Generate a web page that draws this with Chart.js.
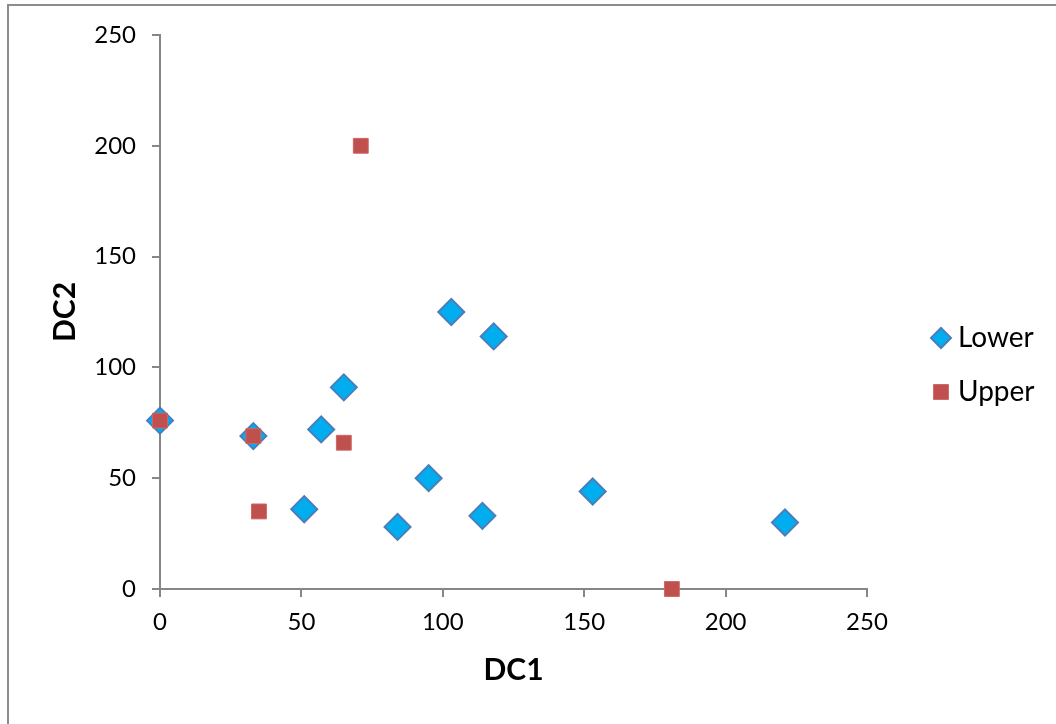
<!DOCTYPE html>
<html>
<head>
<meta charset="utf-8">
<script src="https://cdn.jsdelivr.net/npm/chart.js@4/dist/chart.umd.min.js"></script>
<style>
  html, body { margin: 0; padding: 0; background: #fff; }
  #wrap { position: relative; width: 1056px; height: 724px; }
</style>
</head>
<body>
<div id="wrap"><canvas id="c"></canvas></div>
<script>
const seriesNames = ['Lower', 'Upper'];
const lowerX = [0, 33, 51, 57, 65, 84, 95, 103, 114, 118, 153, 221];
const lowerY = [76, 69, 36, 72, 91, 28, 50, 125, 33, 114, 44, 30];
const upperX = [0, 33, 35, 65, 71, 181];
const upperY = [76, 69, 35, 66, 200, 0];
const xTicks = [0, 50, 100, 150, 200, 250];
const yTicks = [0, 50, 100, 150, 200, 250];
const xTitle = 'DC1';
const yTitle = 'DC2';

const FONT = 'Lato, "Open Sans", sans-serif';
const lowerStyle = { pointStyle: 'rectRot', backgroundColor: '#00AEEF', borderColor: '#4A7EBB', borderWidth: 2, radius: 13 };
const upperStyle = { pointStyle: 'rect', backgroundColor: '#C0504D', borderColor: '#CC6663', borderWidth: 1, radius: 10.5 };

function toPoints(xs, ys) { return xs.map((x, i) => ({ x: x, y: ys[i] })); }

const framePlugin = {
  id: 'frame',
  beforeDraw(chart) {
    const ctx = chart.ctx;
    ctx.save();
    ctx.strokeStyle = '#8C8C8C';
    ctx.lineWidth = 2;
    ctx.beginPath();
    ctx.moveTo(8, 724);
    ctx.lineTo(8, 5);
    ctx.lineTo(1056, 5);
    ctx.stroke();
    ctx.restore();
  }
};

const legendPlugin = {
  id: 'customLegend',
  afterDraw(chart) {
    const ctx = chart.ctx;
    const items = [
      { text: seriesNames[0], style: lowerStyle, r: 10, y: 338 },
      { text: seriesNames[1], style: upperStyle, r: 10.5, y: 392 }
    ];
    ctx.save();
    items.forEach(it => {
      ctx.fillStyle = it.style.backgroundColor;
      ctx.strokeStyle = it.style.borderColor;
      ctx.lineWidth = it.style.borderWidth;
      Chart.helpers.drawPoint(ctx, { pointStyle: it.style.pointStyle, radius: it.r, rotation: 0, borderWidth: it.style.borderWidth }, 941, it.y);
      ctx.fillStyle = '#000';
      ctx.font = '28px ' + FONT;
      ctx.textBaseline = 'middle';
      ctx.textAlign = 'left';
      ctx.fillText(it.text, 958, it.y);
    });
    ctx.restore();
  }
};

new Chart(document.getElementById('c'), {
  type: 'scatter',
  data: {
    datasets: [
      {
        label: seriesNames[0],
        data: toPoints(lowerX, lowerY),
        order: 2,
        clip: false,
        pointStyle: lowerStyle.pointStyle,
        backgroundColor: lowerStyle.backgroundColor,
        borderColor: lowerStyle.borderColor,
        borderWidth: lowerStyle.borderWidth,
        pointRadius: lowerStyle.radius,
        pointHoverRadius: lowerStyle.radius
      },
      {
        label: seriesNames[1],
        data: toPoints(upperX, upperY),
        order: 1,
        clip: false,
        pointStyle: upperStyle.pointStyle,
        backgroundColor: upperStyle.backgroundColor,
        borderColor: upperStyle.borderColor,
        borderWidth: upperStyle.borderWidth,
        pointRadius: upperStyle.radius,
        pointHoverRadius: upperStyle.radius
      }
    ]
  },
  options: {
    responsive: true,
    maintainAspectRatio: false,
    animation: false,
    layout: { padding: { left: 0, top: 35, right: 189, bottom: 0 } },
    plugins: {
      legend: { display: false },
      tooltip: { enabled: false }
    },
    scales: {
      x: {
        type: 'linear',
        min: 0, max: 250,
        afterBuildTicks(scale) { scale.ticks = xTicks.map(v => ({ value: v })); },
        afterFit(scale) { scale.height = 135; },
        border: { display: true, color: '#868686', width: 2 },
        grid: { display: true, drawOnChartArea: false, drawTicks: true, tickLength: 8, color: '#868686', lineWidth: 2 },
        ticks: { color: '#000', font: { family: FONT, size: 24 }, padding: 11, maxRotation: 0 },
        title: { display: true, text: xTitle, color: '#000', font: { family: FONT, size: 30, weight: 'bold' }, padding: { top: 0, bottom: 36 } }
      },
      y: {
        type: 'linear',
        min: 0, max: 250,
        afterBuildTicks(scale) { scale.ticks = yTicks.map(v => ({ value: v })); },
        afterFit(scale) { scale.width = 160; },
        border: { display: true, color: '#868686', width: 2 },
        grid: { display: true, drawOnChartArea: false, drawTicks: true, tickLength: 8, color: '#868686', lineWidth: 2 },
        ticks: { color: '#000', font: { family: FONT, size: 24 }, padding: 16 },
        title: { display: true, text: yTitle, color: '#000', font: { family: FONT, size: 30, weight: 'bold' }, padding: { top: 47, bottom: 0 } }
      }
    }
  },
  plugins: [framePlugin, legendPlugin]
});
</script>
</body>
</html>
